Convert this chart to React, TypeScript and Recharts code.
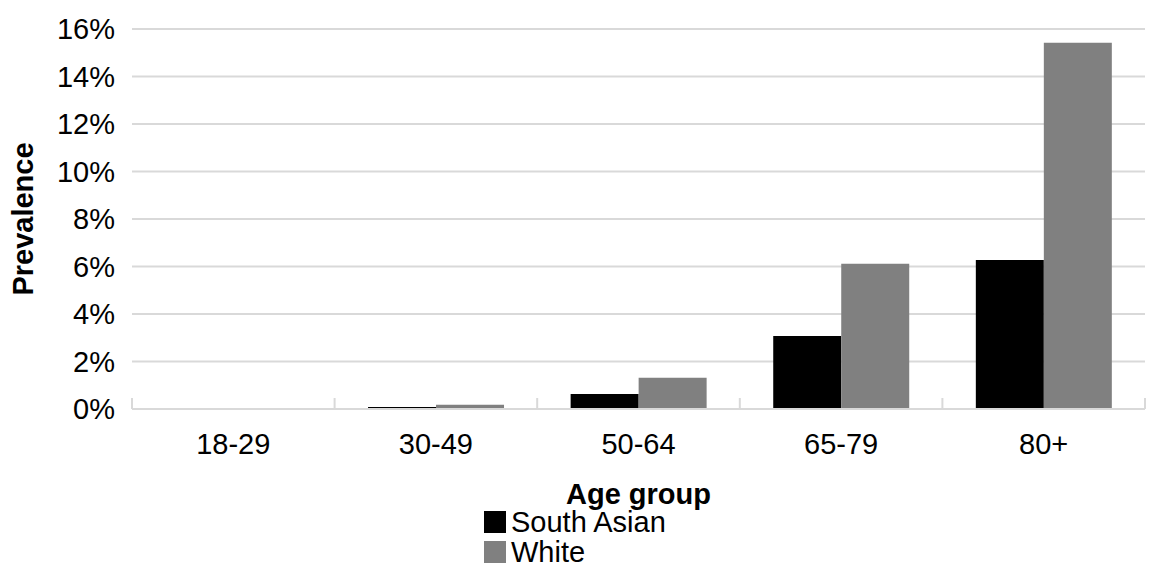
import React from 'react';
import { BarChart, Bar, XAxis, YAxis, CartesianGrid, Legend } from 'recharts';

const categories = ['18-29', '30-49', '50-64', '65-79', '80+'];
const southAsian = [0.04, 0.08, 0.63, 3.07, 6.27];
const white = [0.04, 0.18, 1.32, 6.12, 15.42];
const yTicks = [0, 2, 4, 6, 8, 10, 12, 14, 16];
const edgeTicks = [0, 1, 2, 3, 4, 5];

const data = categories.map((c, i) => ({ group: c, pos: i + 0.5, sa: southAsian[i], w: white[i] }));

const FONT = '"Liberation Sans", Arial, sans-serif';
const FS = 29;

const renderLegend = (props: any) => {
  const { payload } = props;
  return (
    <div style={{ fontFamily: FONT, fontSize: FS, color: '#000', lineHeight: '30px' }}>
      {payload.map((p: any) => (
        <div key={p.value} style={{ display: 'flex', alignItems: 'center', height: 30 }}>
          <span style={{ display: 'inline-block', width: 22, height: 22, background: p.color, marginRight: 5 }} />
          <span>{p.value}</span>
        </div>
      ))}
    </div>
  );
};

export default function App() {
  return (
    <div style={{ position: 'absolute', left: 0, top: 0, width: 1152, height: 585, background: '#fff' }}>
      <BarChart
        width={1152}
        height={585}
        data={data}
        margin={{ top: 29, right: 7, left: 0, bottom: 16 }}
        barCategoryGap="16.5%"
        barGap={0}
      >
        <CartesianGrid vertical={false} stroke="#d9d9d9" strokeWidth={2} />
        <XAxis
          xAxisId="cat"
          dataKey="group"
          height={100}
          axisLine={false}
          tickLine={false}
          tickSize={0}
          tickMargin={24}
          tick={{ fill: '#000', fontSize: FS, fontFamily: FONT }}
          label={{ value: 'Age group', position: 'insideBottom', offset: 5, style: { fontFamily: FONT, fontSize: FS, fontWeight: 'bold', fill: '#000' } }}
        />
        <XAxis
          xAxisId="edges"
          dataKey="pos"
          type="number"
          scale="linear"
          domain={[0, 5]}
          ticks={edgeTicks}
          interval={0}
          allowDataOverflow
          height={1}
          mirror
          tickSize={11}
          tickLine={{ stroke: '#d9d9d9', strokeWidth: 2 }}
          axisLine={{ stroke: '#d9d9d9', strokeWidth: 2 }}
          tick={{ fontSize: 1, fill: 'none' }}
          tickFormatter={() => ' '}
        />
        <YAxis
          width={132}
          domain={[0, 16]}
          ticks={yTicks}
          interval={0}
          axisLine={false}
          tickLine={false}
          tickSize={6}
          tickMargin={11}
          tickFormatter={(v: number) => `${v}%`}
          tick={{ fill: '#000', fontSize: FS, fontFamily: FONT }}
          label={{ value: 'Prevalence', angle: -90, position: 'insideLeft', offset: 23, style: { textAnchor: 'middle', fontFamily: FONT, fontSize: FS, fontWeight: 'bold', fill: '#000' } }}
        />
        <Legend
          layout="vertical"
          content={renderLegend}
          wrapperStyle={{ left: 484, top: 507, width: 'auto', bottom: 'auto' }}
        />
        <Bar xAxisId="cat" dataKey="sa" name="South Asian" fill="#000000" isAnimationActive={false} />
        <Bar xAxisId="cat" dataKey="w" name="White" fill="#808080" isAnimationActive={false} />
      </BarChart>
    </div>
  );
}
